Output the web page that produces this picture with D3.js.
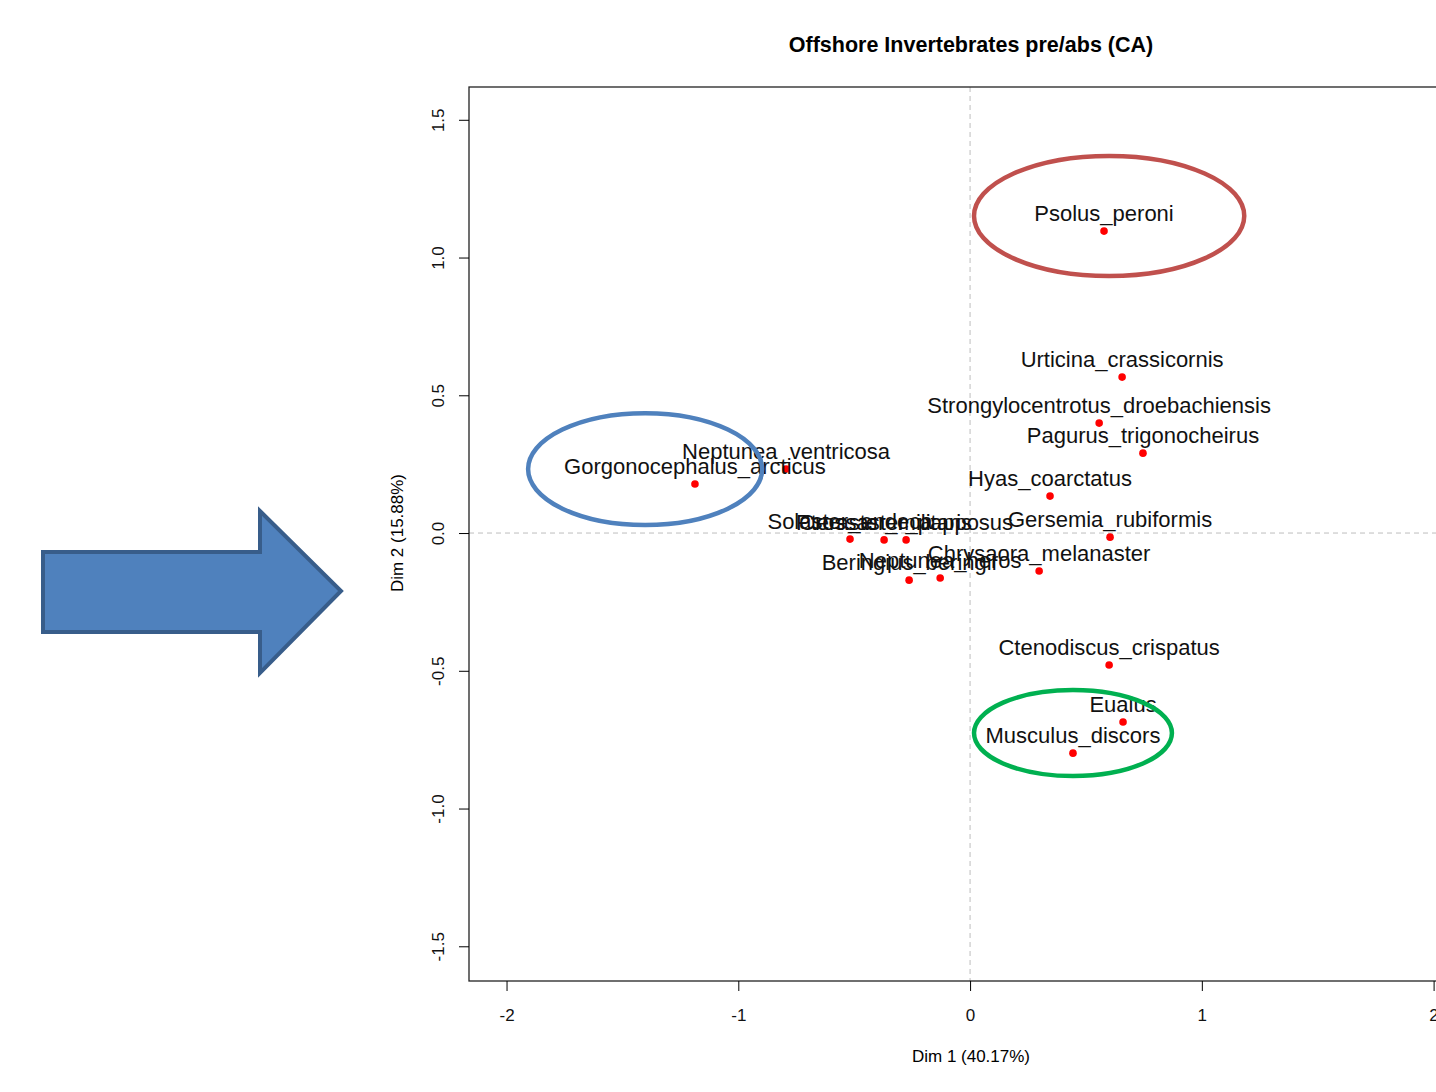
<!DOCTYPE html>
<html>
<head>
<meta charset="utf-8">
<script src="https://cdn.jsdelivr.net/npm/d3@7"></script>
<style>
  body { margin: 0; background: #fff; }
  svg { display: block; font-family: Arial, "Liberation Sans", sans-serif; }
</style>
</head>
<body>
<script>
// species coordinates on CA dimensions 1 and 2
const species = ['Psolus_peroni', 'Urticina_crassicornis', 'Strongylocentrotus_droebachiensis',
  'Pagurus_trigonocheirus', 'Hyas_coarctatus', 'Gersemia_rubiformis', 'Chrysaora_melanaster',
  'Ctenodiscus_crispatus', 'Eualus', 'Musculus_discors', 'Gorgonocephalus_arcticus',
  'Neptunea_ventricosa', 'Solaster_endeca', 'Pteraster_militaris', 'Crossaster_papposus',
  'Beringius_beringii', 'Neptunea_heros'];
const dim1 = [0.578, 0.656, 0.557, 0.746, 0.345, 0.604, 0.298, 0.600, 0.660, 0.444, -1.187,
  -0.794, -0.518, -0.371, -0.276, -0.263, -0.129];
const dim2 = [1.096, 0.566, 0.399, 0.290, 0.134, -0.015, -0.138, -0.479, -0.686, -0.799, 0.178,
  0.232, -0.022, -0.025, -0.025, -0.171, -0.163];

const xTicks = [-2, -1, 0, 1, 2];
const xTickLabels = ['-2', '-1', '0', '1', '2'];
const yTicks = [-1.5, -1.0, -0.5, 0.0, 0.5, 1.0, 1.5];
const yTickLabels = ['-1.5', '-1.0', '-0.5', '0.0', '0.5', '1.0', '1.5'];

// highlight ellipses (centre and radii in data units)
const ringColors = ['#c0504d', '#4f81bd', '#00b050'];
const ringCx = [0.600, -1.402, 0.444];
const ringCy = [1.151, 0.232, -0.726];
const ringRx = [0.583, 0.505, 0.427];
const ringRy = [0.218, 0.203, 0.156];

const width = 1436, height = 1092;
const plotLeft = 469, plotRight = 1473, plotTop = 87, plotBottom = 981;

const x = d3.scaleLinear().domain([-2.162, 2.17]).range([plotLeft, plotRight]);
const y = d3.scaleLinear().domain([-1.626, 1.619]).range([plotBottom, plotTop]);

const svg = d3.select('body').append('svg')
  .attr('width', width)
  .attr('height', height);

// arrow pointing at the chart
svg.append('path')
  .attr('d', 'M43,552 L260,552 L260,511 L341,591 L260,673 L260,632 L43,632 Z')
  .attr('fill', '#4f81bd')
  .attr('stroke', '#385d8a')
  .attr('stroke-width', 4)
  .attr('stroke-linejoin', 'miter');

svg.append('text')
  .attr('x', 971)
  .attr('y', 52)
  .attr('text-anchor', 'middle')
  .style('font-weight', 'bold')
  .style('font-size', '21.5px')
  .text('Offshore Invertebrates pre/abs (CA)');

// zero lines
svg.append('line')
  .attr('x1', x(0)).attr('x2', x(0))
  .attr('y1', plotTop).attr('y2', plotBottom)
  .attr('stroke', '#bdbdbd').attr('stroke-dasharray', '5,4');
svg.append('line')
  .attr('x1', plotLeft).attr('x2', plotRight)
  .attr('y1', y(0)).attr('y2', y(0))
  .attr('stroke', '#bdbdbd').attr('stroke-dasharray', '5,4');

svg.append('rect')
  .attr('x', plotLeft).attr('y', plotTop)
  .attr('width', plotRight - plotLeft).attr('height', plotBottom - plotTop)
  .attr('fill', 'none').attr('stroke', '#222').attr('stroke-width', 1.3);

// axes
const xAxis = svg.append('g')
  .attr('transform', `translate(0,${plotBottom})`)
  .call(d3.axisBottom(x).tickValues(xTicks).tickSize(10).tickPadding(18)
    .tickFormat((d, i) => xTickLabels[i]));
xAxis.select('.domain').remove();
xAxis.selectAll('text').style('font-size', '17px').attr('fill', '#111');

const yAxis = svg.append('g')
  .attr('transform', `translate(${plotLeft},0)`)
  .call(d3.axisLeft(y).tickValues(yTicks).tickSize(10).tickFormat((d, i) => yTickLabels[i]));
yAxis.select('.domain').remove();
yAxis.selectAll('text')
  .style('font-size', '17px')
  .attr('fill', '#111')
  .attr('text-anchor', 'middle')
  .attr('x', 0).attr('dy', 0)
  .attr('transform', 'translate(-31,0) rotate(-90)')
  .attr('y', 6);

svg.append('text')
  .attr('x', 971)
  .attr('y', 1062)
  .attr('text-anchor', 'middle')
  .style('font-size', '17px')
  .text('Dim 1 (40.17%)');

svg.append('text')
  .attr('transform', `translate(403,${y(0)}) rotate(-90)`)
  .attr('text-anchor', 'middle')
  .style('font-size', '17px')
  .text('Dim 2 (15.88%)');

const plot = svg.append('g');

plot.selectAll('circle.pt')
  .data(species)
  .enter()
  .append('circle')
  .attr('class', 'pt')
  .attr('cx', (d, i) => x(dim1[i]))
  .attr('cy', (d, i) => y(dim2[i]))
  .attr('r', 3.8)
  .attr('fill', '#ff0000');

plot.selectAll('text.lab')
  .data(species)
  .enter()
  .append('text')
  .attr('class', 'lab')
  .attr('x', (d, i) => x(dim1[i]))
  .attr('y', (d, i) => y(dim2[i]) - 10)
  .attr('text-anchor', 'middle')
  .style('font-size', '22px')
  .attr('fill', '#111')
  .text(d => d);

plot.selectAll('ellipse')
  .data(ringColors)
  .enter()
  .append('ellipse')
  .attr('cx', (d, i) => x(ringCx[i]))
  .attr('cy', (d, i) => y(ringCy[i]))
  .attr('rx', (d, i) => x(ringRx[i]) - x(0))
  .attr('ry', (d, i) => y(0) - y(ringRy[i]))
  .attr('fill', 'none')
  .attr('stroke', d => d)
  .attr('stroke-width', 4.5);
</script>
</body>
</html>
